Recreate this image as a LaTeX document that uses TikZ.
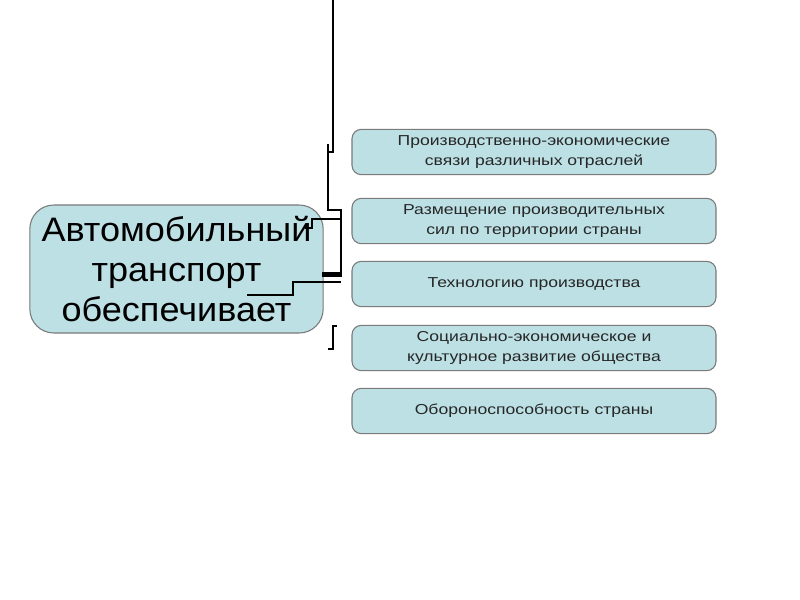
\documentclass[tikz,border=0pt]{standalone}
\usepackage{fontspec}
\setmainfont{Liberation Sans}
\newfontfamily\widefont[FakeStretch=1.22]{Liberation Sans}
\newfontfamily\bigfont[FakeStretch=1.06]{Liberation Sans}
\usepackage{xcolor}
\usetikzlibrary{positioning}
\definecolor{BoxFill}{HTML}{BCE0E4}
\definecolor{BoxLine}{HTML}{7A7A7A}
\tikzset{
  mainbox/.style={draw=BoxLine, thick, fill=BoxFill, rounded corners=18pt,
    align=center, minimum width=220pt, minimum height=96pt, inner sep=0pt,
    font=\bigfont\fontsize{25.5}{30}\selectfont},
  itembox/.style={draw=BoxLine, thick, fill=BoxFill, rounded corners=7pt,
    align=center, minimum width=273pt, minimum height=34pt, inner sep=0pt,
    font=\widefont\fontsize{10.8}{14.5}\selectfont, text=black!85},
  wire/.style={line width=1.5pt, black},
}
\begin{document}
\begin{tikzpicture}[x=0.75pt, y=-0.75pt]
  \useasboundingbox[fill=white] (0,0) rectangle (800,600);
  % left block
  \node[mainbox] (auto) at (176.5,269) {Автомобильный\\транспорт\\обеспечивает};
  % right column
  \node[itembox] (prod) at (534,152) {Производственно-экономические\\связи различных отраслей};
  \node[itembox] (razm) at (534,221) {Размещение производительных\\сил по территории страны};
  \node[itembox] (tech) at (534,284) {Технологию производства};
  \node[itembox] (soc)  at (534,348) {Социально-экономическое и\\культурное развитие общества};
  \node[itembox] (obor) at (534,411) {Обороноспособность страны};
  % stray bracket lines
  \draw[wire] (333,0) -- (333,152) -- (328,152);
  \draw[wire] (328,144) -- (328,160);
  \draw[wire] (328,152) -- (328,210) -- (341,210) -- (341,276) -- (322,276);
  \draw[wire] (305,228) -- (312,228) -- (312,219) -- (341,219);
  \draw[wire] (247,295) -- (293,295) -- (293,282) -- (341,282);
  \draw[line width=2.5pt] (322,274) -- (341,274);
  \draw[wire] (337,326) -- (333,326) -- (333,349) -- (328,349);
\end{tikzpicture}
\end{document}
